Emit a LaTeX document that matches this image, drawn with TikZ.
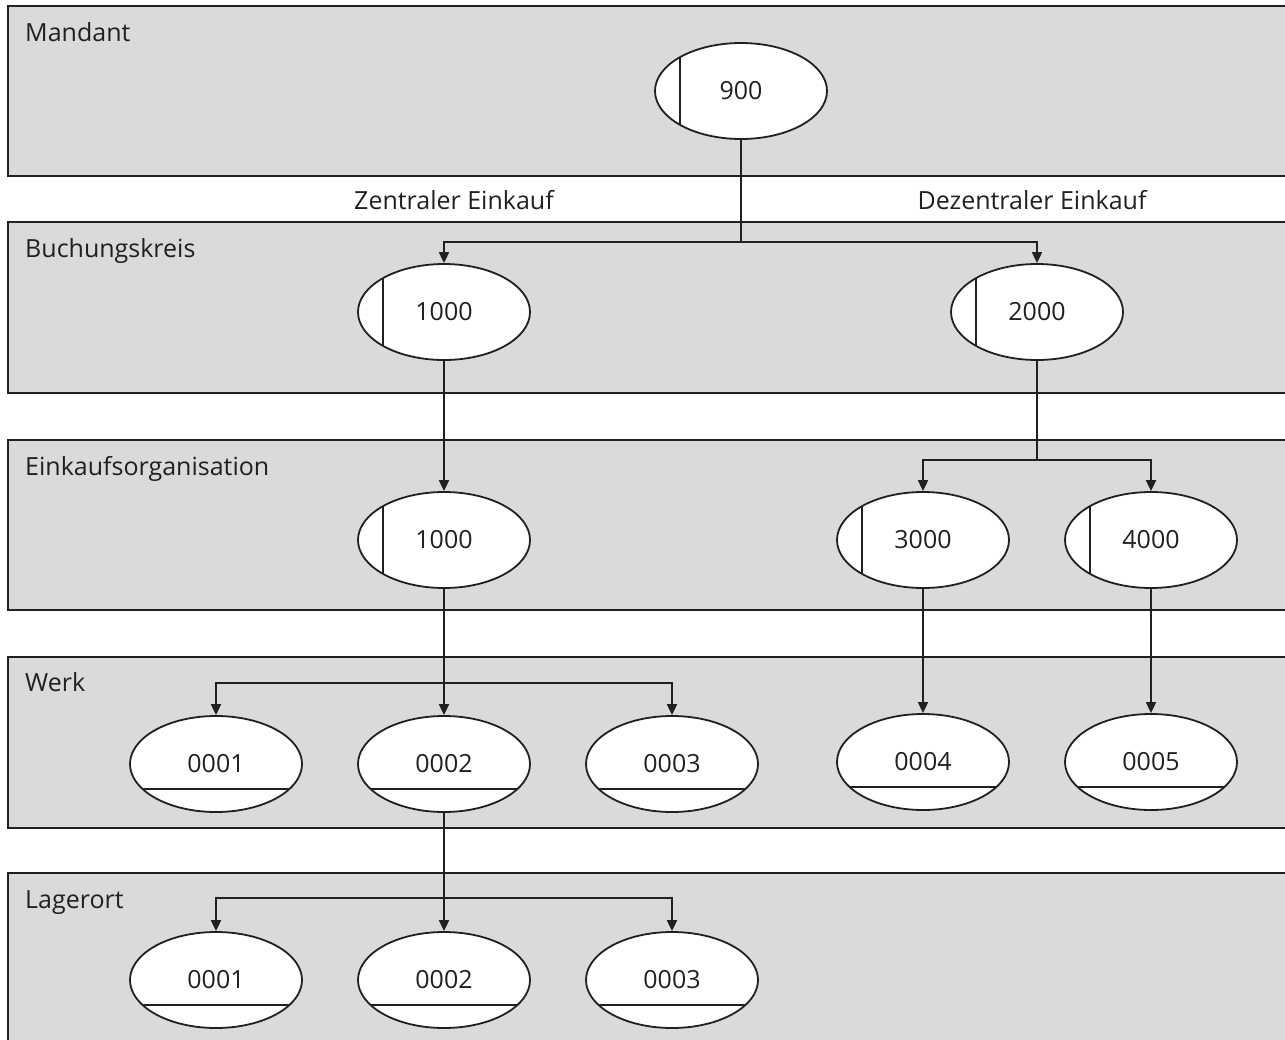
\documentclass[tikz,border=0pt]{standalone}
\usepackage{fontspec}
\setmainfont{Open Sans}
\usetikzlibrary{shapes.geometric,arrows.meta}
\definecolor{bandgray}{HTML}{D9DADC}
\definecolor{ink}{HTML}{231F20}
\begin{document}
\begin{tikzpicture}[x=1pt,y=-1pt,
  font=\fontsize{25}{30}\selectfont,
  band/.style={draw=ink,fill=bandgray,line width=2pt},
  lbl/.style={anchor=base west,text=ink,inner sep=0},
  obj/.style={ellipse,draw=ink,fill=white,line width=1.8pt,
    minimum width=172pt,minimum height=96pt,inner sep=0,text=ink},
  keyobj/.style={obj,path picture={
    \draw[ink,line width=1.8pt] (path picture bounding box.center)
      ++(-61pt,-60pt) -- ++(0pt,120pt);}},
  unitobj/.style={obj,path picture={
    \draw[ink,line width=1.8pt] (path picture bounding box.center)
      ++(-90pt,-25pt) -- ++(180pt,0pt);}},
  link/.style={draw=ink,line width=1.8pt},
  arr/.style={link,-{Triangle[length=11pt,width=10pt]}}
]
\useasboundingbox (0,0) rectangle (1285,1039);
\clip (0,0) rectangle (1285,1039);

% layers
\draw[band] (8,6)   rectangle (1300,176);
\draw[band] (8,222) rectangle (1300,393);
\draw[band] (8,440) rectangle (1300,610);
\draw[band] (8,657) rectangle (1300,828);
\draw[band] (8,873) rectangle (1300,1070);

\node[lbl] (lm) at (25,41)  {Mandant};
\node[lbl] (lb) at (25,257) {Buchungskreis};
\node[lbl] (le) at (25,475) {Einkaufsorganisation};
\node[lbl] (lw) at (25,691) {Werk};
\node[lbl] (ll) at (25,908) {Lagerort};

\node[anchor=base,text=ink,inner sep=0] (zen) at (454,209) {Zentraler Einkauf};
\node[anchor=base,text=ink,inner sep=0] (dez) at (1032,209) {Dezentraler Einkauf};

% organisational units
\node[keyobj] (m900) at (741,91) {900};
\node[keyobj] (bk1) at (444,312) {1000};
\node[keyobj] (bk2) at (1037,312) {2000};
\node[keyobj] (eo1) at (444,540) {1000};
\node[keyobj] (eo3) at (923,540) {3000};
\node[keyobj] (eo4) at (1151,540) {4000};
\node[unitobj] (w1) at (216,764) {0001};
\node[unitobj] (w2) at (444,764) {0002};
\node[unitobj] (w3) at (672,764) {0003};
\node[unitobj] (w4) at (923,762) {0004};
\node[unitobj] (w5) at (1151,762) {0005};
\node[unitobj] (l1) at (216,980) {0001};
\node[unitobj] (l2) at (444,980) {0002};
\node[unitobj] (l3) at (672,980) {0003};

% junctions
\coordinate (j1) at (741,242);
\coordinate (j2) at (1037,460);
\coordinate (j3) at (444,683);
\coordinate (j4) at (444,898);

% connectors
\draw[link] (m900) -- (j1);
\draw[arr] (j1) -| (bk1);
\draw[arr] (j1) -| (bk2);
\draw[arr] (bk1) -- (eo1);
\draw[link] (bk2) -- (j2);
\draw[arr] (j2) -| (eo3);
\draw[arr] (j2) -| (eo4);
\draw[arr] (eo1) -- (w2);
\draw[arr] (j3) -| (w1);
\draw[arr] (j3) -| (w3);
\draw[arr] (eo3) -- (w4);
\draw[arr] (eo4) -- (w5);
\draw[arr] (w2) -- (l2);
\draw[arr] (j4) -| (l1);
\draw[arr] (j4) -| (l3);
\end{tikzpicture}
\end{document}
